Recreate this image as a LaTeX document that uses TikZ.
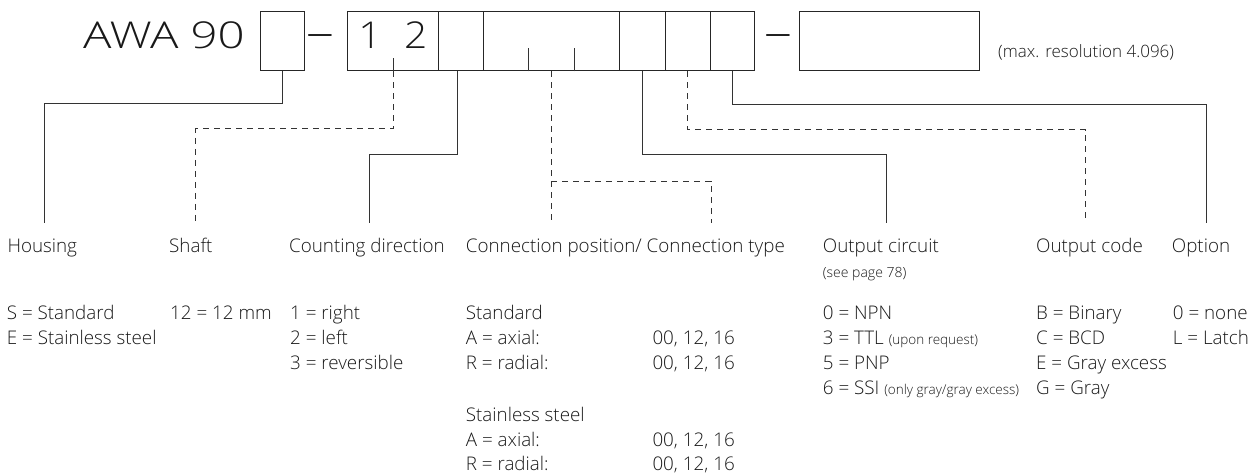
\documentclass[tikz,border=0pt]{standalone}
\usepackage{fontspec}
\IfFontExistsTF{Open Sans Light}{\setmainfont{Open Sans Light}}{\setmainfont{Open Sans}}
\usetikzlibrary{calc}
\begin{document}
\begin{tikzpicture}[x=1pt,y=-1pt,
  ln/.style={draw=black!80, line width=0.9pt},
  dl/.style={ln, dash pattern=on 6pt off 5pt},
  box/.style={draw=black!85, line width=0.9pt, inner sep=0pt, minimum height=59pt},
  big/.style={inner sep=0pt, font=\fontsize{37}{40}\selectfont, text=black!90},
  lbl/.style={anchor=base west, inner sep=0pt, font=\fontsize{18.8}{21}\selectfont, text=black!90},
  sm/.style={lbl, font=\fontsize{14}{16}\selectfont}]
\useasboundingbox (0,0) rectangle (1257,474);
% code boxes
\node[box, minimum width=44pt] (b1) at (282,41.3) {};
\node[box, minimum width=90.6pt] (segA) at (393,41.3) {};
\node[box, minimum width=45pt] (segC) at (460.8,41.3) {};
\node[box, minimum width=136pt] (segD) at (551.3,41.3) {};
\node[box, minimum width=45.7pt] (segE) at (642.15,41.3) {};
\node[box, minimum width=45.7pt] (segF) at (687.85,41.3) {};
\node[box, minimum width=43.6pt] (segG) at (732.5,41.3) {};
\node[box, minimum width=180.3pt] (last) at (889.15,41.3) {};
% ticks
\draw[ln] (segA.south) -- ++(0,-13);
\draw[ln] ($(segD.south west)!1/3!(segD.south east)$) -- ++(0,-23);
\draw[ln] ($(segD.south west)!2/3!(segD.south east)$) -- ++(0,-23);
% texts of the code line
\node[big, anchor=base east] (awa) at (245,48.3) {\scalebox{1.28}[1]{AWA 90}};
\node[big, anchor=base] (d1) at (320,48.3) {\scalebox{1.5}[1.3]{–}};
\node[big, anchor=base] (n1) at (370,48.3) {\scalebox{1.1}[1]{1}};
\node[big, anchor=base] (n2) at (415.7,48.3) {\scalebox{1.1}[1]{2}};
\node[big, anchor=base] (d2) at (778,48.3) {\scalebox{1.5}[1.3]{–}};
\node[lbl, font=\fontsize{17}{19}\selectfont] (maxres) at (998,57) {(max. resolution 4.096)};
% end points
\coordinate (hEnd) at (44.3,223);
\coordinate (sEnd) at (195.7,222);
\coordinate (cEnd) at (369.3,223);
\coordinate (pEnd) at (551.3,223);
\coordinate (pBr) at (551.3,181);
\coordinate (tEnd) at (711,223);
\coordinate (oEnd) at (886.7,223);
\coordinate (ocEnd) at (1085.7,223);
\coordinate (opEnd) at (1206.7,223);
% connectors
\draw[ln] (b1.south) -- ++(0,32.5) -| (hEnd);
\draw[dl] (segA.south) -- ++(0,57.5) -| (sEnd);
\draw[ln] ([xshift=-3.5pt]segC.south) -- ++(0,83.5) -| (cEnd);
\draw[dl] (segD.south) -- (pEnd);
\draw[dl] (pBr) -| (tEnd);
\draw[ln] (segE.south) -- ++(0,83.5) -| (oEnd);
\draw[dl] (segF.south) -- ++(0,58.5) -| (ocEnd);
\draw[ln] (segG.south) -- ++(0,33) -| (opEnd);
% headings
\node[lbl] (lHousing) at (7.3,252.5) {Housing};
\node[lbl] (lShaft) at (169,252.5) {Shaft};
\node[lbl] (lCount) at (289,252.5) {Counting direction};
\node[lbl] (lConn) at (465.7,252.5) {Connection position/ Connection type};
\node[lbl] (lOut) at (822.7,252.5) {Output circuit};
\node[sm] (lSee) at (822.7,277.5) {(see page 78)};
\node[lbl] (lCode) at (1036,252.5) {Output code};
\node[lbl] (lOpt) at (1171.7,252.5) {Option};
% Housing
\node[lbl] (h1) at (6.7,319.5) {S = Standard};
\node[lbl] (h2) at (6.7,344.5) {E = Stainless steel};
% Shaft
\node[lbl] (s1) at (170,319.5) {12 = 12 mm};
% Counting direction
\node[lbl] (c1) at (290,319.5) {1 = right};
\node[lbl] (c2) at (290,344.5) {2 = left};
\node[lbl] (c3) at (290,369.5) {3 = reversible};
% Connection
\node[lbl] (p1) at (465.7,319.5) {Standard};
\node[lbl] (p2) at (465.7,344.5) {A = axial:};
\node[lbl] (p3) at (465.7,369.5) {R = radial:};
\node[lbl] (p2v) at (652.3,344.5) {00, 12, 16};
\node[lbl] (p3v) at (652.3,369.5) {00, 12, 16};
\node[lbl] (p4) at (465.7,421.5) {Stainless steel};
\node[lbl] (p5) at (465.7,446.5) {A = axial:};
\node[lbl] (p6) at (465.7,470.5) {R = radial:};
\node[lbl] (p5v) at (652.3,446.5) {00, 12, 16};
\node[lbl] (p6v) at (652.3,470.5) {00, 12, 16};
% Output circuit
\node[lbl] (o1) at (822.7,319.5) {0 = NPN};
\node[lbl] (o2) at (822.7,344.5) {3 = TTL {\fontsize{13.5}{15}\selectfont (upon request)}};
\node[lbl] (o3) at (822.7,369.5) {5 = PNP};
\node[lbl] (o4) at (822.7,394.5) {6 = SSI {\fontsize{13.5}{15}\selectfont (only gray/gray excess)}};
% Output code
\node[lbl] (k1) at (1036,319.5) {B = Binary};
\node[lbl] (k2) at (1036,344.5) {C = BCD};
\node[lbl] (k3) at (1036,369.5) {E = Gray excess};
\node[lbl] (k4) at (1036,394.5) {G = Gray};
% Option
\node[lbl] (q1) at (1172.7,319.5) {0 = none};
\node[lbl] (q2) at (1172.7,344.5) {L = Latch};
\end{tikzpicture}
\end{document}
